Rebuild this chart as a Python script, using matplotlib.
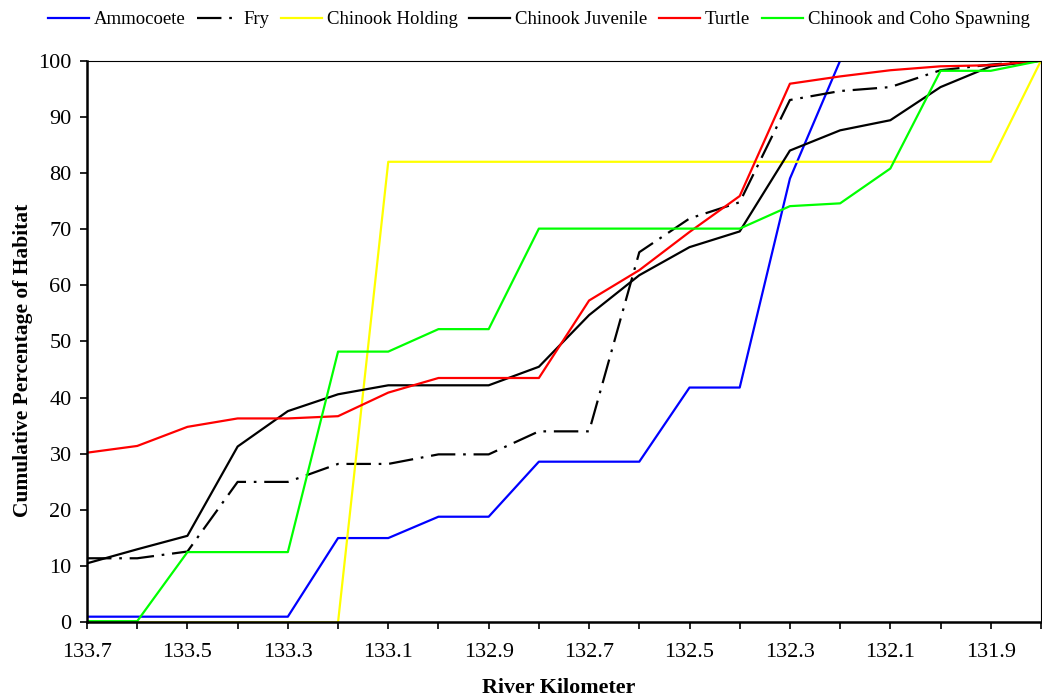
import numpy as np
import matplotlib
matplotlib.use("Agg")
import matplotlib.pyplot as plt

plt.rcParams['font.family'] = ['Liberation Serif', 'DejaVu Serif']

# river kilometer stations (upstream -> downstream)
river_km = [133.7, 133.6, 133.5, 133.4, 133.3, 133.2, 133.1, 133.0, 132.9, 132.8,
            132.7, 132.6, 132.5, 132.4, 132.3, 132.2, 132.1, 132.0, 131.9, 131.8]

ammocoete = [1.0, 1.0, 1.0, 1.0, 1.0, 15.0, 15.0, 18.8, 18.8, 28.6,
             28.6, 28.6, 41.8, 41.8, 79.0, 100, 100, 100, 100, 100]
fry = [11.4, 11.4, 12.6, 25.0, 25.0, 28.2, 28.2, 29.9, 29.9, 34.0,
       34.0, 65.9, 71.9, 74.8, 93.0, 94.6, 95.3, 98.3, 99.3, 100]
chinook_holding = [0, 0, 0, 0, 0, 0, 82.0, 82.0, 82.0, 82.0,
                   82.0, 82.0, 82.0, 82.0, 82.0, 82.0, 82.0, 82.0, 82.0, 100]
chinook_juvenile = [10.5, 13.0, 15.4, 31.3, 37.6, 40.6, 42.2, 42.2, 42.2, 45.5,
                    54.7, 61.8, 66.8, 69.6, 84.0, 87.6, 89.4, 95.3, 99.0, 100]
turtle = [30.2, 31.4, 34.8, 36.3, 36.3, 36.7, 40.9, 43.5, 43.5, 43.5,
          57.3, 62.7, 69.5, 75.9, 95.9, 97.2, 98.3, 99.0, 99.2, 100]
coho_spawning = [0.2, 0.2, 12.5, 12.5, 12.5, 48.2, 48.2, 52.2, 52.2, 70.1,
                 70.1, 70.1, 70.1, 70.1, 74.1, 74.6, 80.8, 98.2, 98.2, 100]

fig = plt.figure(figsize=(10.42, 7.0), dpi=100)
ax = fig.add_axes([0.0835, 0.111, 0.9155, 0.8023])

lw = 1.6
ax.plot(river_km, ammocoete, color='#0000FF', lw=lw, label='Ammocoete')
ax.plot(river_km, fry, color='black', lw=lw, dashes=(11, 3.5, 1.2, 3.5), label='Fry')
ax.plot(river_km, chinook_holding, color='#FFFF00', lw=lw, label='Chinook Holding')
ax.plot(river_km, chinook_juvenile, color='black', lw=lw, label='Chinook Juvenile')
ax.plot(river_km, turtle, color='#FF0000', lw=lw, label='Turtle')
ax.plot(river_km, coho_spawning, color='#00FF00', lw=lw, label='Chinook and Coho Spawning')

ax.set_xlim(133.7, 131.8)
ax.set_ylim(0, 100)

major = river_km[::2]
ax.set_xticks(major)
ax.set_xticklabels([f'{v:.1f}' for v in major])
ax.set_xticks(river_km[1::2], minor=True)
ax.set_yticks(np.arange(0, 101, 10))

ax.tick_params(axis='both', which='both', direction='out', length=5, width=1.2,
               labelsize=16, colors='black')
ax.tick_params(axis='x', pad=10)
ax.tick_params(axis='y', pad=6)

for side in ['left', 'bottom']:
    ax.spines[side].set_linewidth(1.8)
for side in ['top', 'right']:
    ax.spines[side].set_linewidth(0.8)

ax.set_xlabel('River Kilometer', fontsize=15.8, fontweight='bold')
ax.set_ylabel('Cumulative Percentage of Habitat', fontsize=15.5, fontweight='bold')
ax.xaxis.set_label_coords(0.494, -0.099)
ax.yaxis.set_label_coords(-0.0566, 0.467)

fig.legend(loc='upper center', bbox_to_anchor=(0.517, 1.0), ncol=6, frameon=False,
           fontsize=13.5, handlelength=2.2, handletextpad=0.27, columnspacing=0.6,
           borderaxespad=0.2)

fig.savefig('out.png', dpi=100)
